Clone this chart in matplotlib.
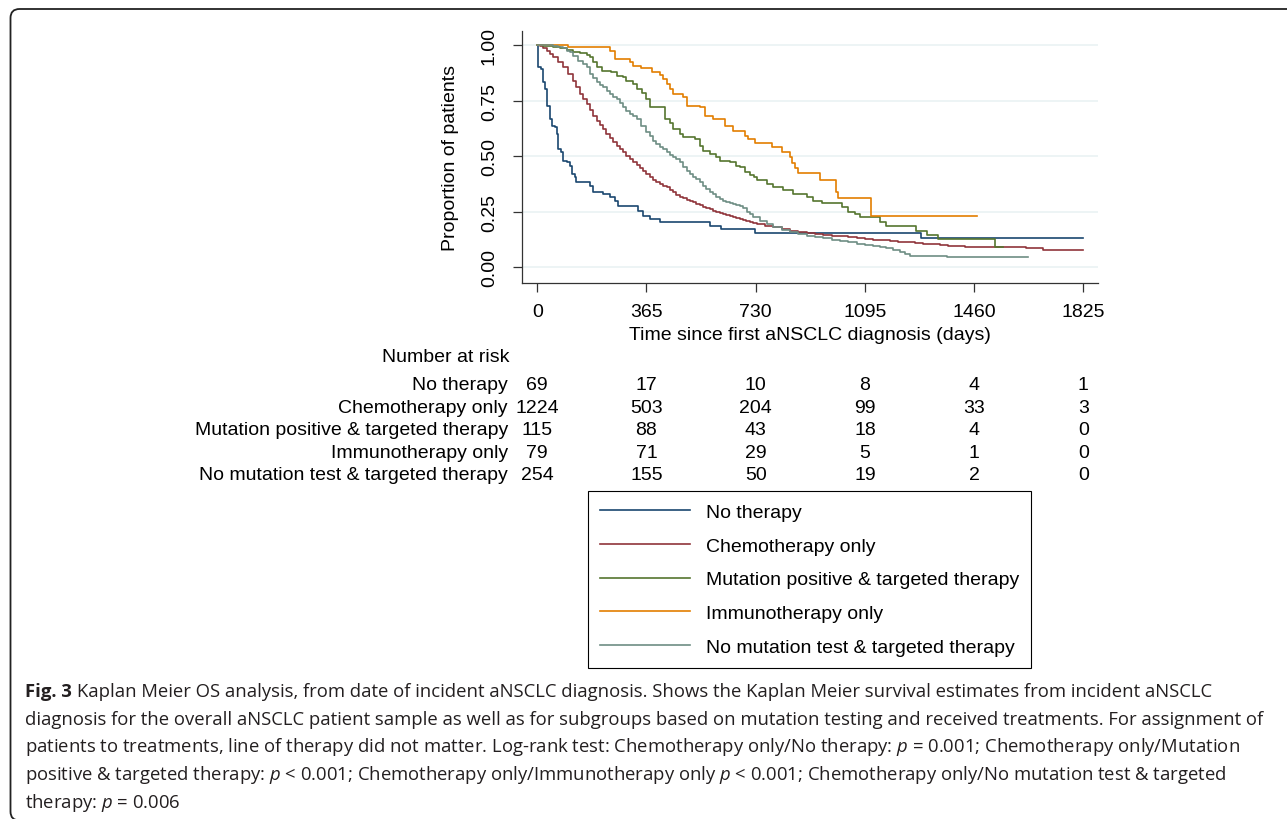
import matplotlib
matplotlib.use('Agg')
import matplotlib.pyplot as plt
from matplotlib.patches import FancyBboxPatch
from matplotlib.transforms import blended_transform_factory, IdentityTransform

plt.rcParams['font.family'] = 'Liberation Sans'
plt.rcParams['mathtext.fontset'] = 'custom'
plt.rcParams['mathtext.rm'] = 'Open Sans'
plt.rcParams['mathtext.it'] = 'Open Sans:italic'

# ---- data ----
groups = ['No therapy', 'Chemotherapy only', 'Mutation positive & targeted therapy',
          'Immunotherapy only', 'No mutation test & targeted therapy']
colors = ['#1a476f', '#90353b', '#55752f', '#e37e00', '#6e8e84']

no_ther_t = [0, 3, 11, 20, 26, 31, 42, 48, 59, 65, 70, 81, 87, 98, 109, 115, 126, 131,
             176, 187, 220, 243, 259, 270, 337, 354, 376, 410, 576, 615, 728, 1284, 1825]
no_ther_s = [1.0, 0.90, 0.892, 0.832, 0.802, 0.727, 0.667, 0.637, 0.63, 0.60, 0.532, 0.517,
             0.48, 0.472, 0.457, 0.42, 0.405, 0.382, 0.367, 0.337, 0.33, 0.315, 0.30, 0.277,
             0.255, 0.232, 0.217, 0.202, 0.187, 0.172, 0.155, 0.13, 0.13]

chemo_t = [0, 10, 20, 31, 42, 53, 70, 87, 103, 120, 131, 142, 153, 165, 176, 187, 198, 209,
           220, 231, 243, 254, 265, 276, 287, 298, 309, 320, 332, 343, 354, 365, 376, 387,
           398, 410, 421, 432, 443, 454, 465, 476, 487, 499, 510, 521, 532, 543, 554, 565,
           576, 588, 599, 610, 621, 632, 643, 654, 665, 677, 688, 699, 710, 721, 733, 760,
           789, 817, 845, 872, 900, 928, 956, 984, 1012, 1040, 1067, 1095, 1123, 1150, 1178,
           1206, 1234, 1262, 1290, 1318, 1345, 1373, 1401, 1429, 1457, 1635, 1690, 1825]
chemo_s = [1.0, 0.995, 0.985, 0.975, 0.96, 0.945, 0.925, 0.90, 0.87, 0.84, 0.81, 0.78, 0.757,
           0.735, 0.707, 0.68, 0.66, 0.64, 0.62, 0.60, 0.58, 0.562, 0.547, 0.532, 0.517, 0.502,
           0.487, 0.472, 0.458, 0.445, 0.432, 0.42, 0.405, 0.393, 0.384, 0.375, 0.367, 0.36,
           0.348, 0.337, 0.327, 0.318, 0.31, 0.303, 0.297, 0.292, 0.286, 0.28, 0.273, 0.267,
           0.261, 0.255, 0.249, 0.244, 0.24, 0.235, 0.231, 0.228, 0.222, 0.217, 0.213, 0.21,
           0.205, 0.20, 0.195, 0.188, 0.18, 0.172, 0.165, 0.16, 0.154, 0.15, 0.145, 0.142,
           0.139, 0.135, 0.132, 0.128, 0.124, 0.122, 0.12, 0.116, 0.112, 0.108, 0.105, 0.103,
           0.10, 0.097, 0.094, 0.092, 0.09, 0.085, 0.08, 0.08]

mut_t = [0, 20, 53, 76, 98, 120, 142, 165, 176, 187, 198, 215, 248, 265, 287, 298, 320, 332,
         350, 365, 376, 426, 443, 454, 476, 487, 526, 543, 554, 576, 599, 610, 643, 665, 678,
         694, 710, 725, 735, 767, 789, 822, 856, 900, 922, 950, 1017, 1039, 1062, 1078, 1145,
         1167, 1267, 1301, 1340, 1529, 1557]
mut_s = [1.0, 0.996, 0.99, 0.985, 0.978, 0.97, 0.963, 0.955, 0.945, 0.922, 0.90, 0.885, 0.877,
         0.862, 0.855, 0.84, 0.825, 0.802, 0.785, 0.757, 0.72, 0.667, 0.649, 0.622, 0.60, 0.585,
         0.577, 0.547, 0.525, 0.51, 0.495, 0.48, 0.472, 0.457, 0.45, 0.43, 0.415, 0.405, 0.393,
         0.375, 0.36, 0.349, 0.33, 0.315, 0.30, 0.288, 0.27, 0.25, 0.24, 0.225, 0.202, 0.184,
         0.165, 0.145, 0.127, 0.09, 0.09]

immuno_t = [0, 103, 243, 259, 309, 320, 348, 382, 410, 421, 432, 443, 454, 487, 499, 543, 560,
            588, 626, 654, 693, 704, 727, 783, 817, 845, 850, 861, 872, 945, 998, 1006, 1115, 1471]
immuno_s = [1.0, 0.99, 0.975, 0.937, 0.925, 0.907, 0.895, 0.877, 0.865, 0.847, 0.825, 0.80,
            0.78, 0.765, 0.727, 0.72, 0.682, 0.667, 0.637, 0.615, 0.592, 0.577, 0.56, 0.54,
            0.517, 0.495, 0.47, 0.445, 0.423, 0.393, 0.34, 0.31, 0.232, 0.232]

nomut_t = [0, 30, 53, 70, 87, 98, 109, 120, 137, 154, 165, 176, 187, 198, 209, 220, 232, 243,
           254, 265, 276, 287, 298, 309, 320, 332, 348, 365, 376, 387, 398, 410, 421, 432, 443,
           454, 465, 476, 487, 499, 510, 521, 532, 543, 554, 565, 576, 588, 599, 610, 621, 632,
           643, 654, 665, 677, 688, 700, 711, 722, 744, 767, 789, 817, 845, 872, 900, 928, 956,
           984, 1012, 1040, 1067, 1095, 1123, 1145, 1167, 1190, 1212, 1230, 1245, 1368, 1640]
nomut_s = [1.0, 0.998, 0.995, 0.99, 0.985, 0.975, 0.967, 0.952, 0.93, 0.915, 0.90, 0.87, 0.85,
           0.832, 0.82, 0.81, 0.795, 0.78, 0.768, 0.757, 0.74, 0.72, 0.705, 0.69, 0.68, 0.667,
           0.637, 0.607, 0.59, 0.57, 0.555, 0.54, 0.53, 0.517, 0.505, 0.495, 0.485, 0.472, 0.452,
           0.435, 0.42, 0.405, 0.395, 0.382, 0.367, 0.352, 0.34, 0.33, 0.318, 0.307, 0.30, 0.295,
           0.29, 0.285, 0.281, 0.277, 0.265, 0.25, 0.24, 0.225, 0.21, 0.195, 0.18, 0.168, 0.157,
           0.15, 0.142, 0.136, 0.13, 0.125, 0.12, 0.112, 0.105, 0.10, 0.097, 0.09, 0.085, 0.076,
           0.067, 0.06, 0.052, 0.045, 0.045]

times = [no_ther_t, chemo_t, mut_t, immuno_t, nomut_t]
survs = [no_ther_s, chemo_s, mut_s, immuno_s, nomut_s]

risk_times = [0, 365, 730, 1095, 1460, 1825]
at_risk = [[69, 17, 10, 8, 4, 1],
           [1224, 503, 204, 99, 33, 3],
           [115, 88, 43, 18, 4, 0],
           [79, 71, 29, 5, 1, 0],
           [254, 155, 50, 19, 2, 0]]
y_ticks = [0, 0.25, 0.5, 0.75, 1.0]

caption = [
    'Kaplan Meier OS analysis, from date of incident aNSCLC diagnosis. Shows the Kaplan Meier survival estimates from incident aNSCLC',
    'diagnosis for the overall aNSCLC patient sample as well as for subgroups based on mutation testing and received treatments. For assignment of',
    'patients to treatments, line of therapy did not matter. Log-rank test: Chemotherapy only/No therapy: $p$ = 0.001; Chemotherapy only/Mutation',
    'positive & targeted therapy: $p$ < 0.001; Chemotherapy only/Immunotherapy only $p$ < 0.001; Chemotherapy only/No mutation test & targeted',
    'therapy: $p$ = 0.006',
]

# ---- figure ----
W, H = 1287, 820
fig = plt.figure(figsize=(W / 100, H / 100), dpi=100)
ax = fig.add_axes([522 / W, 1 - 284 / H, 576 / W, 252 / H])

for name, t, s, c in zip(groups, times, survs, colors):
    ax.plot(t, s, drawstyle='steps-post', color=c, lw=1.2, label=name)

ax.set_xlim(-51, 1874)
ax.set_ylim(-0.0706, 1.063)
ax.set_xticks(risk_times)
ax.set_yticks(y_ticks)
ax.set_yticklabels(['%.2f' % v for v in y_ticks])
ax.yaxis.grid(True, color='#eaf2f3', lw=1.2)
ax.set_axisbelow(True)
for side in ['top', 'right']:
    ax.spines[side].set_visible(False)
for side in ['left', 'bottom']:
    ax.spines[side].set_color('#333333')
    ax.spines[side].set_linewidth(0.9)
ax.tick_params(direction='out', length=6.5, width=0.9, color='#333333', labelsize=14)
ax.tick_params(axis='x', pad=8.0)
ax.tick_params(axis='y', labelrotation=90, pad=10.8)
for lab in ax.get_yticklabels():
    lab.set_va('center')

ax.set_xlabel('Time since first aNSCLC diagnosis (days)', fontsize=14)
ax.xaxis.set_label_coords(0.5, -0.171)
ax.set_ylabel('Proportion of patients', fontsize=14)
ax.yaxis.set_label_coords(-0.109, 0.5)

# number at risk table
trans = blended_transform_factory(ax.transData, fig.transFigure)
fig.text(510 / W, 1 - 362 / H, 'Number at risk', ha='right', va='baseline', fontsize=14)
for i, (name, row) in enumerate(zip(groups, at_risk)):
    yb = 1 - (390 + i * 22.6) / H
    fig.text(508 / W, yb, name, ha='right', va='baseline', fontsize=14)
    for t, n in zip(risk_times, row):
        ax.text(t, yb, str(n), transform=trans, ha='center', va='baseline',
                fontsize=14, clip_on=False)

leg = ax.legend(loc='upper left', bbox_to_anchor=(588 / W, 1 - 492 / H),
                bbox_transform=fig.transFigure, fontsize=14, handlelength=4.6,
                handletextpad=0.82, borderpad=0.63, labelspacing=0.83, borderaxespad=0,
                fancybox=False, edgecolor='black', framealpha=1)
leg.get_frame().set_linewidth(0.8)

# caption
cap_font = dict(fontfamily='Open Sans', fontsize=13.3, color='#231f20', va='baseline')
fig_t = fig.text(25 / W, 1 - 697 / H, 'Fig. 3', fontweight='bold', **cap_font)
bb = fig_t.get_window_extent(fig.canvas.get_renderer())
for i, line in enumerate(caption):
    x0 = (bb.x1 + 5) / W if i == 0 else 25 / W
    fig.text(x0, 1 - (697 + i * 27.7) / H, line, **cap_font)

frame = FancyBboxPatch((10.5, -1.5), 1400, 811.5, boxstyle='round,pad=0,rounding_size=9',
                       transform=IdentityTransform(), fill=False, ec='#222222', lw=1.3)
fig.add_artist(frame)

fig.savefig('out.png', dpi=100)
